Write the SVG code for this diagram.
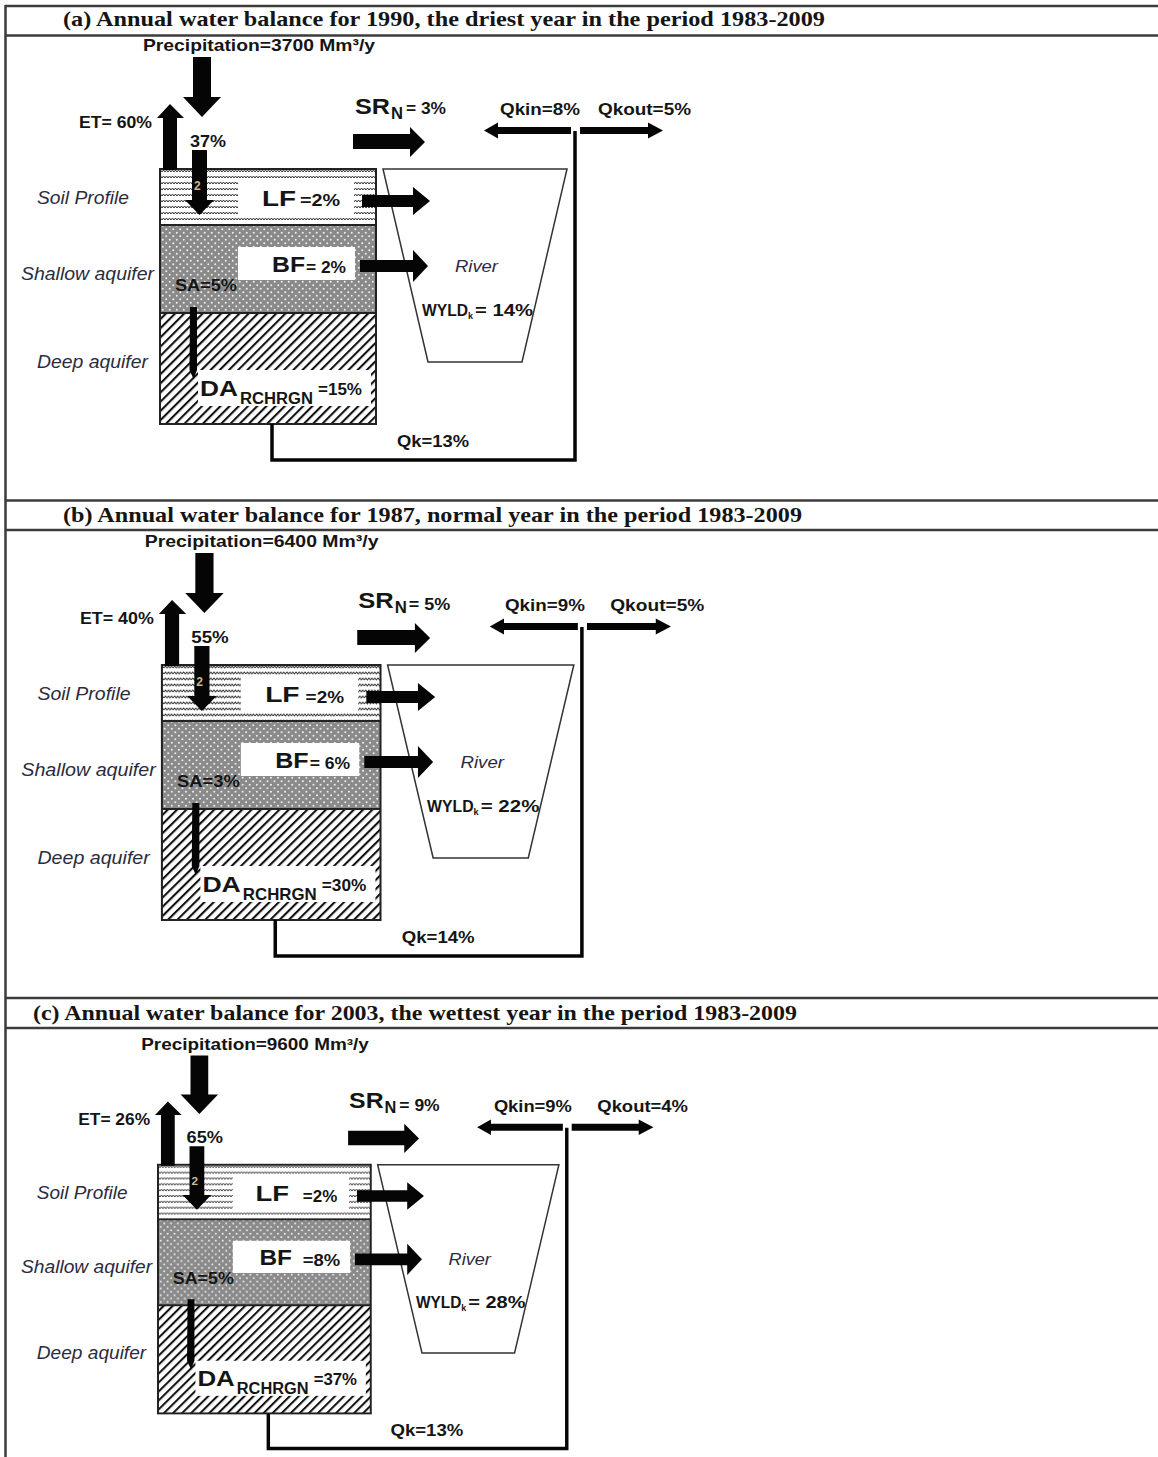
<svg xmlns="http://www.w3.org/2000/svg" width="1158" height="1457" viewBox="0 0 1158 1457">
  <style>
    .t { font-family: "Liberation Sans", Arial, sans-serif; font-weight: bold; fill: #151515; }
    .i { font-family: "Liberation Sans", Arial, sans-serif; font-style: italic; fill: #2a2c3e; }
    .ttl { font-family: "Liberation Serif", "Times New Roman", serif; font-weight: bold; font-size: 21px; fill: #151515; }
    .ar { fill: #050505; }
    .frame { stroke: #3c3c3c; stroke-width: 2.5; fill: none; }
    .edge { stroke: #222; stroke-width: 2; fill: none; }
    .river { fill: #fff; stroke: #333; stroke-width: 1.5; }
    .lbl { fill: #fff; }
    .qk { stroke: #050505; stroke-width: 3.5; fill: none; }
    .mark { font-family: "Liberation Sans", Arial, sans-serif; font-weight: bold; font-size: 12px; fill: #c9b98e; }
  </style>
  <defs>
    <!-- soil profile: rows of small wavy marks -->
    <pattern id="soil" width="9" height="6" patternUnits="userSpaceOnUse">
      <rect width="9" height="6" fill="#fff"/>
      <path d="M0 4 l1.5 -2 l1.5 2 l1.5 -2 l1.5 2 l1.5 -2 l1.5 2" fill="none" stroke="#333" stroke-width="1"/>
    </pattern>
    <!-- shallow aquifer: grey with white dots -->
    <pattern id="dots" width="7" height="7" patternUnits="userSpaceOnUse">
      <rect width="7" height="7" fill="#8a8a8a"/>
      <circle cx="1.75" cy="1.75" r="1" fill="#eee"/>
      <circle cx="5.25" cy="5.25" r="1" fill="#eee"/>
    </pattern>
    <!-- deep aquifer: diagonal hatching -->
    <pattern id="hatch" width="6.5" height="6.5" patternUnits="userSpaceOnUse" patternTransform="rotate(45)">
      <rect width="6.5" height="6.5" fill="#fff"/>
      <line x1="1" y1="0" x2="1" y2="6.5" stroke="#111" stroke-width="2.2"/>
    </pattern>
  </defs>

  <!-- table frame -->
  <g id="frame">
    <line class="frame" x1="5.5" y1="5" x2="5.5" y2="1457"/>
    <line class="frame" x1="5" y1="6" x2="1158" y2="6"/>
    <line class="frame" x1="5" y1="35.5" x2="1158" y2="35.5"/>
    <line class="frame" x1="5" y1="500.5" x2="1158" y2="500.5"/>
    <line class="frame" x1="5" y1="530" x2="1158" y2="530"/>
    <line class="frame" x1="5" y1="998" x2="1158" y2="998"/>
    <line class="frame" x1="5" y1="1028" x2="1158" y2="1028"/>
  </g>

  <g id="titles">
    <text class="ttl" x="63" y="26" textLength="762" lengthAdjust="spacingAndGlyphs">(a)  Annual water balance for 1990, the driest year in the period 1983-2009</text>
    <text class="ttl" x="63" y="522" textLength="739" lengthAdjust="spacingAndGlyphs">(b)  Annual water balance for 1987, normal year in the period 1983-2009</text>
    <text class="ttl" x="33" y="1020" textLength="764" lengthAdjust="spacingAndGlyphs">(c) Annual water balance for 2003, the wettest year in the period 1983-2009</text>
  </g>

  <!-- ===== panel (a) ===== -->
  <g id="panel-a">
    <g id="a-river"><polygon class="river" points="383,169 567,169 522,362 428,362"/>
      <text class="i" x="455" y="272" font-size="17" textLength="43" lengthAdjust="spacingAndGlyphs">River</text>
      <text class="t" x="422" y="316" font-size="16" textLength="46" lengthAdjust="spacingAndGlyphs">WYLD</text>
      <text class="t" x="468" y="319" font-size="9">k</text>
      <text class="t" x="475" y="316" font-size="16" textLength="58" lengthAdjust="spacingAndGlyphs">= 14%</text>
    </g>
    <g id="a-column">
      <rect x="160" y="169" width="216" height="56" fill="url(#soil)"/>
      <rect x="160" y="225" width="216" height="88" fill="url(#dots)"/>
      <rect x="160" y="313" width="216" height="111" fill="url(#hatch)"/>
      <line class="edge" x1="160" y1="225" x2="376" y2="225"/>
      <line class="edge" x1="160" y1="313" x2="376" y2="313"/>
      <rect class="edge" x="160" y="169" width="216" height="255"/>
      <rect class="lbl" x="238" y="180" width="116" height="36"/>
      <rect class="lbl" x="238" y="247" width="117" height="33"/>
      <rect class="lbl" x="198" y="370" width="173" height="36"/>
    </g>
    <g id="a-layer-names">
      <text class="i" x="37" y="204" font-size="18" textLength="92" lengthAdjust="spacingAndGlyphs">Soil Profile</text>
      <text class="i" x="21" y="280" font-size="18" textLength="133" lengthAdjust="spacingAndGlyphs">Shallow aquifer</text>
      <text class="i" x="37" y="368" font-size="18" textLength="111" lengthAdjust="spacingAndGlyphs">Deep aquifer</text>
    </g>
    <g id="a-connectors">
      <path class="ar" d="M193 57 H211 V97 H221 L202 117 L183 97 H193 Z"/>
      <path class="ar" d="M163 170 V118 H157 L170 104 L184 118 H177 V170 Z"/>
      <path class="ar" d="M192 150 H207 V200 H214 L199.5 215 L185 200 H192 Z"/>
      <path class="ar" d="M190 307 H197 V370 L193.5 379 L189.5 370 Z"/>
      <path class="ar" d="M353 134 H410 V127 L425 142 L410 157 V149 H353 Z"/>
      <path class="ar" d="M362 195 H413 V187 L430 201 L413 215 V207 H362 Z"/>
      <path class="ar" d="M360 260 H413 V250 L428 266 L413 282 V272 H360 Z"/>
      <path class="qk" d="M272 424 V460 H575 V131"/>
      <path class="ar" d="M571 127 H498 V122.5 L484 130.5 L498 138.5 V134 H571 Z"/>
      <path class="ar" d="M580 127 H648 V122.5 L663 130.5 L648 138.5 V134 H580 Z"/>
    </g>
    <g id="a-labels">
      <text class="t" x="143" y="51" font-size="17" textLength="232" lengthAdjust="spacingAndGlyphs">Precipitation=3700 Mm³/y</text>
      <text class="t" x="79" y="128" font-size="17" textLength="73" lengthAdjust="spacingAndGlyphs">ET= 60%</text>
      <text class="t" x="190" y="147" font-size="16" textLength="36" lengthAdjust="spacingAndGlyphs">37%</text>
      <text class="mark" x="194" y="190">2</text>
      <text class="t" x="355" y="114" font-size="22" textLength="35" lengthAdjust="spacingAndGlyphs">SR</text>
      <text class="t" x="391" y="119" font-size="17" textLength="12" lengthAdjust="spacingAndGlyphs">N</text>
      <text class="t" x="406" y="114" font-size="16" textLength="40" lengthAdjust="spacingAndGlyphs">= 3%</text>
      <text class="t" x="500" y="115" font-size="17" textLength="80" lengthAdjust="spacingAndGlyphs">Qkin=8%</text>
      <text class="t" x="598" y="115" font-size="17" textLength="93" lengthAdjust="spacingAndGlyphs">Qkout=5%</text>
      <text class="t" x="262" y="206" font-size="22" textLength="34" lengthAdjust="spacingAndGlyphs">LF</text>
      <text class="t" x="300" y="206" font-size="16" textLength="40" lengthAdjust="spacingAndGlyphs">=2%</text>
      <text class="t" x="272" y="272" font-size="22" textLength="33" lengthAdjust="spacingAndGlyphs">BF</text>
      <text class="t" x="306" y="273" font-size="16" textLength="40" lengthAdjust="spacingAndGlyphs">= 2%</text>
      <text class="t" x="175" y="291" font-size="16" textLength="62" lengthAdjust="spacingAndGlyphs">SA=5%</text>
      <text class="t" x="200" y="396" font-size="22" textLength="38" lengthAdjust="spacingAndGlyphs">DA</text>
      <text class="t" x="240" y="404" font-size="16" textLength="73" lengthAdjust="spacingAndGlyphs">RCHRGN</text>
      <text class="t" x="318" y="395" font-size="16" textLength="44" lengthAdjust="spacingAndGlyphs">=15%</text>
      <text class="t" x="397" y="447" font-size="17" textLength="72" lengthAdjust="spacingAndGlyphs">Qk=13%</text>
    </g>
  </g>

  <!-- ===== panel (b) ===== -->
  <g id="panel-b" transform="translate(0 496) scale(1.012 1)">
    <g id="b-river"><polygon class="river" points="383,169 567,169 522,362 428,362"/>
      <text class="i" x="455" y="272" font-size="17" textLength="43" lengthAdjust="spacingAndGlyphs">River</text>
      <text class="t" x="422" y="316" font-size="16" textLength="46" lengthAdjust="spacingAndGlyphs">WYLD</text>
      <text class="t" x="468" y="319" font-size="9">k</text>
      <text class="t" x="475" y="316" font-size="16" textLength="58" lengthAdjust="spacingAndGlyphs">= 22%</text>
    </g>
    <g id="b-column">
      <rect x="160" y="169" width="216" height="56" fill="url(#soil)"/>
      <rect x="160" y="225" width="216" height="88" fill="url(#dots)"/>
      <rect x="160" y="313" width="216" height="111" fill="url(#hatch)"/>
      <line class="edge" x1="160" y1="225" x2="376" y2="225"/>
      <line class="edge" x1="160" y1="313" x2="376" y2="313"/>
      <rect class="edge" x="160" y="169" width="216" height="255"/>
      <rect class="lbl" x="238" y="180" width="116" height="36"/>
      <rect class="lbl" x="238" y="247" width="117" height="33"/>
      <rect class="lbl" x="198" y="370" width="173" height="36"/>
    </g>
    <g id="b-layer-names">
      <text class="i" x="37" y="204" font-size="18" textLength="92" lengthAdjust="spacingAndGlyphs">Soil Profile</text>
      <text class="i" x="21" y="280" font-size="18" textLength="133" lengthAdjust="spacingAndGlyphs">Shallow aquifer</text>
      <text class="i" x="37" y="368" font-size="18" textLength="111" lengthAdjust="spacingAndGlyphs">Deep aquifer</text>
    </g>
    <g id="b-connectors">
      <path class="ar" d="M193 57 H211 V97 H221 L202 117 L183 97 H193 Z"/>
      <path class="ar" d="M163 170 V118 H157 L170 104 L184 118 H177 V170 Z"/>
      <path class="ar" d="M192 150 H207 V200 H214 L199.5 215 L185 200 H192 Z"/>
      <path class="ar" d="M190 307 H197 V370 L193.5 379 L189.5 370 Z"/>
      <path class="ar" d="M353 134 H410 V127 L425 142 L410 157 V149 H353 Z"/>
      <path class="ar" d="M362 195 H413 V187 L430 201 L413 215 V207 H362 Z"/>
      <path class="ar" d="M360 260 H413 V250 L428 266 L413 282 V272 H360 Z"/>
      <path class="qk" d="M272 424 V460 H575 V131"/>
      <path class="ar" d="M571 127 H498 V122.5 L484 130.5 L498 138.5 V134 H571 Z"/>
      <path class="ar" d="M580 127 H648 V122.5 L663 130.5 L648 138.5 V134 H580 Z"/>
    </g>
    <g id="b-labels">
      <text class="t" x="143" y="51" font-size="17" textLength="231" lengthAdjust="spacingAndGlyphs">Precipitation=6400 Mm³/y</text>
      <text class="t" x="79" y="128" font-size="17" textLength="73" lengthAdjust="spacingAndGlyphs">ET= 40%</text>
      <text class="t" x="189" y="147" font-size="16" textLength="37" lengthAdjust="spacingAndGlyphs">55%</text>
      <text class="mark" x="194" y="190">2</text>
      <text class="t" x="354" y="112" font-size="22" textLength="35" lengthAdjust="spacingAndGlyphs">SR</text>
      <text class="t" x="390" y="117" font-size="17" textLength="12" lengthAdjust="spacingAndGlyphs">N</text>
      <text class="t" x="404" y="114" font-size="16" textLength="41" lengthAdjust="spacingAndGlyphs">= 5%</text>
      <text class="t" x="499" y="115" font-size="17" textLength="79" lengthAdjust="spacingAndGlyphs">Qkin=9%</text>
      <text class="t" x="603" y="115" font-size="17" textLength="93" lengthAdjust="spacingAndGlyphs">Qkout=5%</text>
      <text class="t" x="262" y="206" font-size="22" textLength="34" lengthAdjust="spacingAndGlyphs">LF</text>
      <text class="t" x="302" y="207" font-size="16" textLength="38" lengthAdjust="spacingAndGlyphs">=2%</text>
      <text class="t" x="272" y="272" font-size="22" textLength="33" lengthAdjust="spacingAndGlyphs">BF</text>
      <text class="t" x="306" y="273" font-size="16" textLength="40" lengthAdjust="spacingAndGlyphs">= 6%</text>
      <text class="t" x="175" y="291" font-size="16" textLength="62" lengthAdjust="spacingAndGlyphs">SA=3%</text>
      <text class="t" x="200" y="396" font-size="22" textLength="38" lengthAdjust="spacingAndGlyphs">DA</text>
      <text class="t" x="240" y="404" font-size="16" textLength="73" lengthAdjust="spacingAndGlyphs">RCHRGN</text>
      <text class="t" x="318" y="395" font-size="16" textLength="44" lengthAdjust="spacingAndGlyphs">=30%</text>
      <text class="t" x="397" y="447" font-size="17" textLength="72" lengthAdjust="spacingAndGlyphs">Qk=14%</text>
    </g>
  </g>

  <!-- ===== panel (c) ===== -->
  <g id="panel-c" transform="matrix(0.985 0 0 0.975 0.4 1000)">
    <g id="c-river"><polygon class="river" points="383,169 567,169 522,362 428,362"/>
      <text class="i" x="455" y="272" font-size="17" textLength="43" lengthAdjust="spacingAndGlyphs">River</text>
      <text class="t" x="422" y="316" font-size="16" textLength="46" lengthAdjust="spacingAndGlyphs">WYLD</text>
      <text class="t" x="468" y="319" font-size="9">k</text>
      <text class="t" x="475" y="316" font-size="16" textLength="58" lengthAdjust="spacingAndGlyphs">= 28%</text>
    </g>
    <g id="c-column">
      <rect x="160" y="169" width="216" height="56" fill="url(#soil)"/>
      <rect x="160" y="225" width="216" height="88" fill="url(#dots)"/>
      <rect x="160" y="313" width="216" height="111" fill="url(#hatch)"/>
      <line class="edge" x1="160" y1="225" x2="376" y2="225"/>
      <line class="edge" x1="160" y1="313" x2="376" y2="313"/>
      <rect class="edge" x="160" y="169" width="216" height="255"/>
      <rect class="lbl" x="236" y="180" width="118" height="36"/>
      <rect class="lbl" x="236" y="247" width="119" height="33"/>
      <rect class="lbl" x="198" y="370" width="173" height="36"/>
    </g>
    <g id="c-layer-names">
      <text class="i" x="37" y="204" font-size="18" textLength="92" lengthAdjust="spacingAndGlyphs">Soil Profile</text>
      <text class="i" x="21" y="280" font-size="18" textLength="133" lengthAdjust="spacingAndGlyphs">Shallow aquifer</text>
      <text class="i" x="37" y="368" font-size="18" textLength="111" lengthAdjust="spacingAndGlyphs">Deep aquifer</text>
    </g>
    <g id="c-connectors">
      <path class="ar" d="M193 57 H211 V97 H221 L202 117 L183 97 H193 Z"/>
      <path class="ar" d="M163 170 V118 H157 L170 104 L184 118 H177 V170 Z"/>
      <path class="ar" d="M192 150 H207 V200 H214 L199.5 215 L185 200 H192 Z"/>
      <path class="ar" d="M190 307 H197 V370 L193.5 379 L189.5 370 Z"/>
      <path class="ar" d="M353 134 H410 V127 L425 142 L410 157 V149 H353 Z"/>
      <path class="ar" d="M362 195 H413 V187 L430 201 L413 215 V207 H362 Z"/>
      <path class="ar" d="M360 260 H413 V250 L428 266 L413 282 V272 H360 Z"/>
      <path class="qk" d="M272 424 V460 H575 V131"/>
      <path class="ar" d="M571 127 H498 V122.5 L484 130.5 L498 138.5 V134 H571 Z"/>
      <path class="ar" d="M580 127 H648 V122.5 L663 130.5 L648 138.5 V134 H580 Z"/>
    </g>
    <g id="c-labels">
      <text class="t" x="143" y="51" font-size="17" textLength="231" lengthAdjust="spacingAndGlyphs">Precipitation=9600 Mm³/y</text>
      <text class="t" x="79" y="128" font-size="17" textLength="73" lengthAdjust="spacingAndGlyphs">ET= 26%</text>
      <text class="t" x="189" y="147" font-size="16" textLength="37" lengthAdjust="spacingAndGlyphs">65%</text>
      <text class="mark" x="194" y="190">2</text>
      <text class="t" x="354" y="111" font-size="22" textLength="35" lengthAdjust="spacingAndGlyphs">SR</text>
      <text class="t" x="390" y="116" font-size="17" textLength="12" lengthAdjust="spacingAndGlyphs">N</text>
      <text class="t" x="405" y="114" font-size="16" textLength="41" lengthAdjust="spacingAndGlyphs">= 9%</text>
      <text class="t" x="501" y="115" font-size="17" textLength="79" lengthAdjust="spacingAndGlyphs">Qkin=9%</text>
      <text class="t" x="606" y="115" font-size="17" textLength="92" lengthAdjust="spacingAndGlyphs">Qkout=4%</text>
      <text class="t" x="259" y="206" font-size="22" textLength="34" lengthAdjust="spacingAndGlyphs">LF</text>
      <text class="t" x="307" y="207" font-size="16" textLength="35" lengthAdjust="spacingAndGlyphs">=2%</text>
      <text class="t" x="263" y="272" font-size="22" textLength="33" lengthAdjust="spacingAndGlyphs">BF</text>
      <text class="t" x="307" y="273" font-size="16" textLength="38" lengthAdjust="spacingAndGlyphs">=8%</text>
      <text class="t" x="175" y="291" font-size="16" textLength="62" lengthAdjust="spacingAndGlyphs">SA=5%</text>
      <text class="t" x="200" y="396" font-size="22" textLength="38" lengthAdjust="spacingAndGlyphs">DA</text>
      <text class="t" x="240" y="404" font-size="16" textLength="73" lengthAdjust="spacingAndGlyphs">RCHRGN</text>
      <text class="t" x="318" y="395" font-size="16" textLength="44" lengthAdjust="spacingAndGlyphs">=37%</text>
      <text class="t" x="396" y="447" font-size="17" textLength="74" lengthAdjust="spacingAndGlyphs">Qk=13%</text>
    </g>
  </g>
</svg>
